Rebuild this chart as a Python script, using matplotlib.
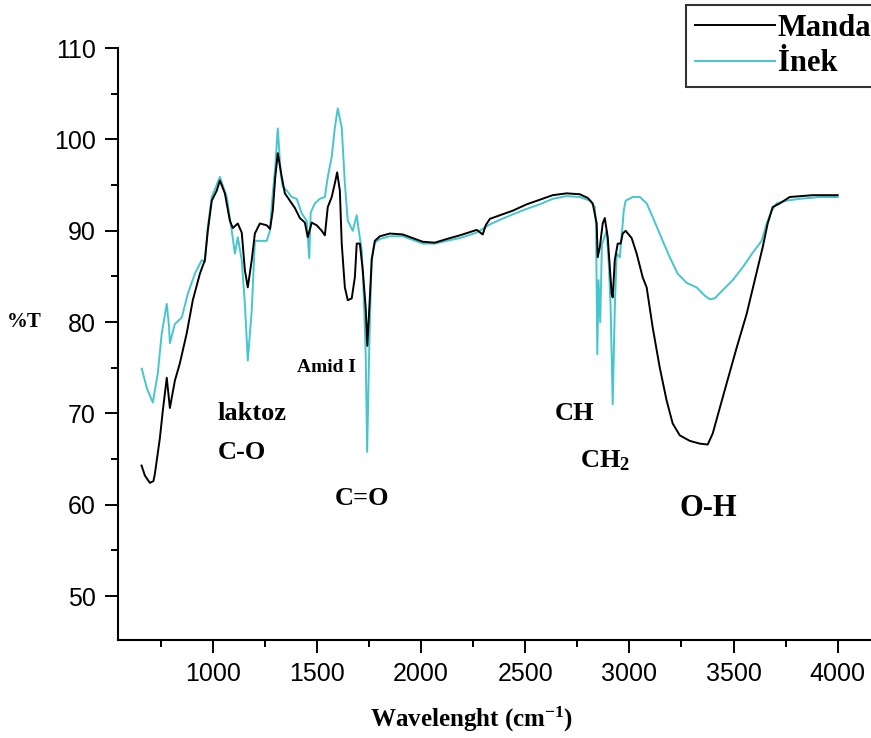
import matplotlib
matplotlib.use('Agg')
import matplotlib.pyplot as plt
from matplotlib.ticker import MultipleLocator

# FTIR spectra
manda_wn = [658, 674, 698, 715, 722, 746, 760, 779, 794, 818, 842, 875, 904, 938, 962,
            976, 995, 1019, 1034, 1058, 1082, 1096, 1120, 1139, 1154, 1168, 1187, 1202,
            1226, 1259, 1275, 1288, 1300, 1312, 1331, 1346, 1370, 1394, 1418, 1442, 1456,
            1475, 1499, 1523, 1538, 1552, 1571, 1586, 1597, 1610, 1619, 1634, 1648, 1667,
            1682, 1691, 1706, 1720, 1734, 1742, 1754, 1763, 1778, 1802, 1850, 1912, 1960,
            2008, 2066, 2123, 2186, 2267, 2296, 2310, 2330, 2378, 2440, 2507, 2570, 2632,
            2699, 2762, 2800, 2824, 2843, 2848, 2858, 2872, 2882, 2896, 2915, 2920, 2930,
            2944, 2958, 2968, 2982, 3011, 3035, 3064, 3083, 3112, 3146, 3179, 3208, 3242,
            3290, 3338, 3376, 3400, 3434, 3467, 3515, 3563, 3602, 3640, 3664, 3688, 3722,
            3770, 3880, 4000]
manda_t = [64.3, 63.2, 62.4, 62.6, 63.4, 67.3, 70.3, 73.9, 70.6, 73.6, 75.5, 78.8, 82.4,
           85.3, 86.8, 90.0, 93.3, 94.4, 95.5, 94.1, 91.1, 90.3, 90.8, 89.8, 85.7, 83.8,
           86.8, 89.7, 90.8, 90.6, 90.2, 92.2, 95.9, 98.5, 95.9, 94.1, 93.3, 92.5, 91.4,
           90.9, 89.3, 90.9, 90.6, 90.0, 89.5, 92.6, 93.7, 95.2, 96.4, 94.4, 88.6, 83.8,
           82.4, 82.6, 84.9, 88.6, 88.6, 85.7, 81.6, 77.4, 82.7, 86.8, 88.9, 89.4, 89.7,
           89.6, 89.2, 88.8, 88.7, 89.1, 89.5, 90.1, 89.6, 90.6, 91.3, 91.7, 92.2, 92.9,
           93.4, 93.9, 94.1, 94.0, 93.6, 93.0, 90.8, 87.1, 88.2, 90.8, 91.4, 89.3, 83.1,
           82.7, 86.8, 88.6, 88.6, 89.7, 90.0, 89.2, 87.5, 84.9, 83.8, 79.4, 75.0, 71.4,
           68.9, 67.6, 67.0, 66.7, 66.6, 67.8, 70.6, 73.3, 77.2, 80.9, 84.6, 88.2, 90.8,
           92.6, 93.0, 93.7, 93.9, 93.9]

inek_wn = [659, 683, 712, 736, 755, 779, 790, 794, 818, 851, 880, 914, 947, 962, 976, 995,
           1034, 1067, 1091, 1106, 1120, 1139, 1154, 1168, 1187, 1202, 1226, 1259, 1274,
           1288, 1300, 1312, 1326, 1336, 1355, 1379, 1403, 1427, 1451, 1463, 1470, 1490,
           1514, 1538, 1552, 1571, 1586, 1600, 1619, 1634, 1648, 1672, 1691, 1701, 1715,
           1725, 1734, 1741, 1750, 1754, 1763, 1778, 1802, 1850, 1912, 1960, 2008, 2066,
           2123, 2186, 2267, 2330, 2378, 2440, 2507, 2570, 2632, 2699, 2762, 2810, 2834,
           2840, 2846, 2852, 2860, 2868, 2891, 2901, 2910, 2920, 2930, 2939, 2954, 2968,
           2973, 2982, 3016, 3050, 3083, 3112, 3160, 3194, 3232, 3275, 3323, 3362, 3386,
           3410, 3448, 3496, 3544, 3592, 3635, 3659, 3683, 3707, 3755, 3818, 3914, 4000]
inek_t = [74.9, 72.8, 71.2, 74.4, 78.8, 82.0, 79.5, 77.7, 79.8, 80.5, 83.1, 85.3, 86.8,
          86.6, 90.4, 93.7, 95.9, 93.7, 90.0, 87.5, 89.3, 86.8, 82.0, 75.8, 81.3, 88.9,
          88.9, 88.9, 90.0, 94.1, 97.0, 101.2, 96.3, 94.8, 94.4, 93.7, 93.5, 91.9, 91.1,
          87.0, 92.0, 93.0, 93.5, 93.7, 95.9, 98.1, 101.3, 103.4, 101.3, 95.2, 91.1, 90.0,
          91.7, 90.0, 87.9, 82.7, 76.6, 65.8, 76.0, 79.8, 87.1, 88.7, 89.1, 89.4, 89.4,
          89.0, 88.6, 88.6, 88.9, 89.2, 89.8, 90.7, 91.2, 91.8, 92.4, 92.9, 93.5, 93.8,
          93.7, 93.3, 92.6, 90.5, 76.5, 84.6, 80.0, 88.5, 90.0, 86.4, 81.6, 71.0, 81.6,
          87.5, 87.1, 90.8, 92.2, 93.3, 93.7, 93.7, 93.0, 91.5, 88.9, 87.1, 85.3, 84.3,
          83.8, 82.9, 82.5, 82.6, 83.5, 84.6, 86.0, 87.6, 88.9, 90.8, 92.2, 93.0, 93.3,
          93.5, 93.7, 93.7]

x_ticks = [1000, 1500, 2000, 2500, 3000, 3500, 4000]
y_ticks = [50, 60, 70, 80, 90, 100, 110]

serif = 'Liberation Serif'
plt.rcParams['mathtext.fontset'] = 'custom'
plt.rcParams['mathtext.rm'] = 'Liberation Serif:bold'
plt.rcParams['mathtext.it'] = 'Liberation Serif:bold'
plt.rcParams['mathtext.bf'] = 'Liberation Serif:bold'

CYAN = '#45C6CF'

fig = plt.figure(figsize=(8.71, 7.38), dpi=100)
ax = fig.add_axes([0.1355, 0.1328, 0.8645, 0.802])

ax.plot(inek_wn, inek_t, color=CYAN, linewidth=1.4, label='İnek')
ax.plot(manda_wn, manda_t, color='black', linewidth=1.4, label='Manda')

ax.set_xlim(545, 4160)
ax.set_ylim(45.2, 110)
ax.set_xticks(x_ticks)
ax.set_yticks(y_ticks)
ax.xaxis.set_minor_locator(MultipleLocator(250))
ax.yaxis.set_minor_locator(MultipleLocator(5))
ax.tick_params(which='major', direction='out', length=9.5, width=1.4, pad=6.5)
ax.tick_params(which='minor', direction='out', length=5, width=1.4)
for lab in ax.get_xticklabels() + ax.get_yticklabels():
    lab.set_fontfamily('Liberation Sans')
    lab.set_fontsize(18)

for side in ['top', 'right']:
    ax.spines[side].set_visible(False)
for side in ['left', 'bottom']:
    ax.spines[side].set_linewidth(1.5)

ax.set_xlabel('Wavelenght (cm$^{-1}$)', fontfamily=serif, fontweight='bold',
              fontsize=18)
ax.xaxis.set_label_coords(0.47, -0.11)
ax.set_ylabel('%T', fontfamily=serif, fontweight='bold', fontsize=15, rotation=0)
ax.yaxis.set_label_coords(-0.124, 0.52)

# band labels
txt = dict(fontfamily=serif, fontweight='bold', color='black')
ax.text(1547, 75.0, 'Amid I', ha='center', va='center', fontsize=14, **txt)
ax.text(1024, 70.0, 'laktoz', ha='left', va='center', fontsize=19, **txt)
ax.text(1024, 65.7, 'C-O', ha='left', va='center', fontsize=19, **txt)
ax.text(1586, 60.7, 'C=O', ha='left', va='center', fontsize=19, **txt)
ax.text(2642, 70.0, 'CH', ha='left', va='center', fontsize=19, **txt)
ax.text(2762, 64.8, 'CH$_2$', ha='left', va='center', fontsize=19, **txt)
ax.text(3242, 59.6, 'O-H', ha='left', va='center', fontsize=22, **txt)

handles, labels = ax.get_legend_handles_labels()
leg = fig.legend(handles[::-1], labels[::-1], loc='upper left',
                 bbox_to_anchor=(686 / 871, 1 - 5 / 738, 0.3, 0.0), mode='expand',
                 prop={'family': serif, 'weight': 'bold', 'size': 22},
                 frameon=True, fancybox=False, handlelength=2.6,
                 handletextpad=0.1, labelspacing=0.2, borderpad=0.3,
                 borderaxespad=0)
leg.get_frame().set_edgecolor('black')
leg.get_frame().set_linewidth(1.5)

fig.savefig('out.png', dpi=100)
